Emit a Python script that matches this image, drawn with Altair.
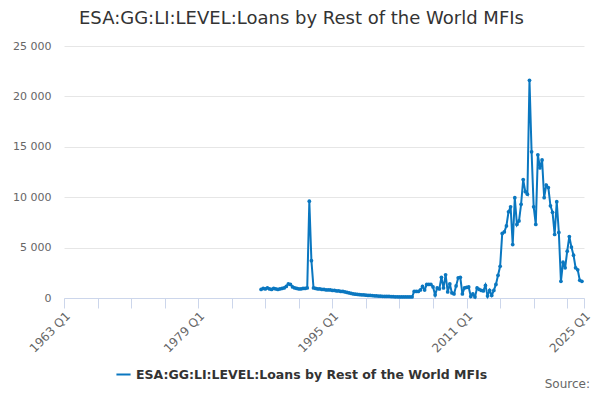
import altair as alt
import pandas as pd

# quarter index counted from 1963 Q1 (= 0)
start_q = 94  # 1986 Q3

early_values = [
    850, 950, 900, 1000, 900, 850, 950, 900, 850, 900, 950, 1000, 1150,
    1400, 1350, 1100,
    1000, 950, 900, 900, 950, 950, 1000,
    9600, 3700, 1000,
    950, 900, 900, 850, 850, 800, 800, 800, 750, 750, 700,
    700, 650, 650, 600, 550, 500, 450, 400, 380, 350,
    330, 320, 300, 280, 260, 250, 240, 220, 200, 190,
    180, 170, 160, 150, 150, 140, 130, 120, 120, 110, 110, 100, 100, 100, 100,
]

# 2004 Q3 .. 2024 Q4
late_values = [
    100, 650, 650, 650, 800, 1150, 800, 1350, 1350, 1350, 1100, 300, 1000, 900,
    2050, 1000, 2300, 600, 1400, 500, 400, 1200, 2000, 2050, 400, 1000, 1050,
    1100, 150, 400, 100, 1000, 850, 750, 700, 1250, 200, 750, 250, 750, 1350,
    2250, 3150, 6400, 6550, 7150, 8550, 9050, 5300, 9950, 7300, 7650, 9300,
    11750, 10550, 10300, 21600, 14500, 9050, 7300, 14200, 12900, 13700, 9950,
    11200, 10950, 9150, 8500, 6300, 9550, 6500, 1650, 3550, 3000, 4650, 6100,
    5050, 4250, 3000, 2800, 1750, 1650,
]

values = early_values + late_values
quarters = list(range(start_q, start_q + len(values)))

series_name = "ESA:GG:LI:LEVEL:Loans by Rest of the World MFIs"
df = pd.DataFrame({"q": quarters, "value": values, "series": series_name})

tick_values = list(range(0, 241, 16)) + [248]
label_expr = ("(datum.value % 64 == 0 || datum.value == 248) ? "
              "(1963 + floor(datum.value / 4)) + ' Q1' : ''")

blue = "#0a77c0"

line = alt.Chart(df).mark_line(
    strokeWidth=2, point=alt.OverlayMarkDef(size=14, filled=True)
).encode(
    x=alt.X("q:Q", scale=alt.Scale(domain=[0, 248], nice=False, zero=False),
            axis=alt.Axis(values=tick_values, labelExpr=label_expr, title=None,
                          labelAngle=-45, labelAlign="right", labelBaseline="top",
                          labelColor="#666666", labelFontSize=12, labelPadding=2,
                          domainColor="#ccd6eb", tickColor="#ccd6eb", tickSize=10,
                          grid=False, labelOverlap=False, labelFlush=False)),
    y=alt.Y("value:Q", scale=alt.Scale(domain=[0, 25000], nice=False),
            axis=alt.Axis(values=[0, 5000, 10000, 15000, 20000, 25000],
                          labelExpr="replace(format(datum.value, ','), ',', ' ')",
                          title=None, domain=False, ticks=False,
                          labelColor="#666666", labelFontSize=11, labelPadding=13,
                          gridColor="#e6e6e6")),
    color=alt.Color("series:N", scale=alt.Scale(range=[blue]),
                    legend=alt.Legend(title=None, orient="none", legendX=51, legendY=320,
                                      symbolType="stroke", symbolStrokeWidth=2,
                                      symbolSize=200, labelFontSize=12.5, labelLimit=0,
                                      labelFontWeight="bold", labelColor="#333333")),
)

source = alt.Chart(pd.DataFrame({"t": ["Source:"]})).mark_text(
    align="right", baseline="bottom", fontSize=12, color="#666666"
).encode(text="t:N", x=alt.value(526), y=alt.value(345))

chart = alt.layer(line, source).properties(
    width=520, height=252,
    padding={"left": 56, "top": 38, "right": 8, "bottom": 94},
    autosize=alt.AutoSizeParams(type="none"),
    title=alt.TitleParams(series_name, anchor="start", frame="group", dx=15, offset=12,
                          fontSize=18, fontWeight="normal", color="#333333",
                          font="DejaVu Sans"),
).configure(font="DejaVu Sans").configure_view(stroke=None)

chart.save("out.html", embed_options={"renderer": "svg", "actions": False})
